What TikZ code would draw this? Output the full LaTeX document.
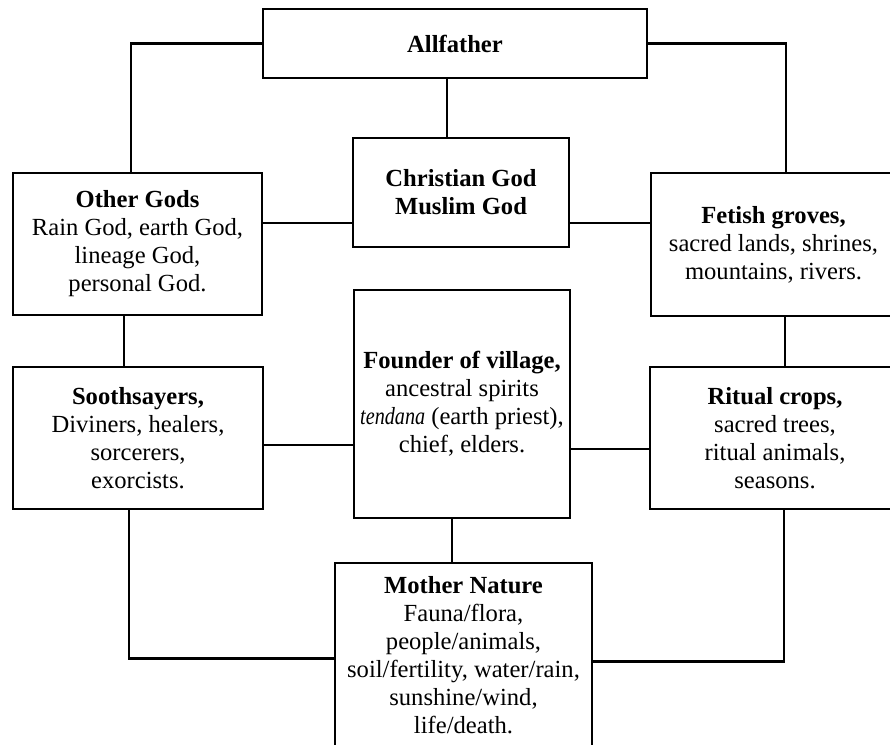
\documentclass[tikz,border=0pt]{standalone}
\usepackage{fontspec}
\setmainfont{Liberation Serif}
\begin{document}
\begin{tikzpicture}[x=1pt,y=-1pt,
  box/.style={draw,line width=2.8pt,inner sep=0pt,align=center,
    font=\fontsize{24.6}{28}\selectfont},
  link/.style={line width=2.2pt}]
\useasboundingbox (0,0) rectangle (890,744);
\clip (0,0) rectangle (890,744);
\node[box,minimum width=384pt,minimum height=69pt] (allf) at (455,43.5) {\textbf{Allfather}};
\node[box,minimum width=216pt,minimum height=109pt] (chr) at (461,192.5)
  {\textbf{Christian God}\\\textbf{Muslim God}};
\node[box,minimum width=249pt,minimum height=142pt] (other) at (137.5,244)
  {\textbf{Other Gods}\\Rain God, earth God,\\lineage God,\\personal God.};
\node[box,minimum width=245pt,minimum height=143pt] (fet) at (773.5,244.5)
  {\textbf{Fetish groves,}\\sacred lands, shrines,\\mountains, rivers.};
\node[box,minimum width=216pt,minimum height=228pt] (found) at (462,404)
  {\textbf{Founder of village,}\\ancestral spirits\\\scalebox{0.82}[1]{\textit{tendana}} (earth priest),\\chief, elders.};
\node[box,minimum width=250pt,minimum height=142pt] (sooth) at (138,438)
  {\textbf{Soothsayers,}\\Diviners, healers,\\sorcerers,\\exorcists.};
\node[box,minimum width=250pt,minimum height=142pt] (rit) at (775,438)
  {\textbf{Ritual crops,}\\sacred trees,\\ritual animals,\\seasons.};
\node[box,minimum width=257pt,minimum height=185pt] (moth) at (463.5,655.5)
  {\textbf{Mother Nature}\\Fauna/flora,\\people/animals,\\soil/fertility, water/rain,\\sunshine/wind,\\life/death.};
\draw[link] (allf.west) -| ([xshift=-6.5pt]other.north);
\draw[link] (allf.east) -| ([xshift=12.5pt]fet.north);
\draw[link] ([xshift=-8pt]allf.south) -- ([xshift=-8pt]allf.south |- chr.north);
\draw[link] ([yshift=21pt]other.east) -- ([yshift=21pt]other.east -| chr.west);
\draw[link] ([yshift=-30.5pt]chr.east) -- ([yshift=-30.5pt]chr.east -| fet.west);
\draw[link] ([xshift=-13.5pt]other.south) -- ([xshift=-13.5pt]other.south |- sooth.north);
\draw[link] ([xshift=11.5pt]fet.south) -- ([xshift=11.5pt]fet.south |- rit.north);
\draw[link] ([yshift=-7pt]sooth.east) -- ([yshift=-7pt]sooth.east -| found.west);
\draw[link] ([yshift=-45pt]found.east) -- ([yshift=-45pt]found.east -| rit.west);
\draw[link] ([xshift=-10pt]found.south) -- ([xshift=-10pt]found.south |- moth.north);
\draw[link] ([xshift=-9pt]sooth.south) |- ([yshift=-3pt]moth.west);
\draw[link] ([xshift=9pt]rit.south) |- ([yshift=-6pt]moth.east);
\end{tikzpicture}
\end{document}
